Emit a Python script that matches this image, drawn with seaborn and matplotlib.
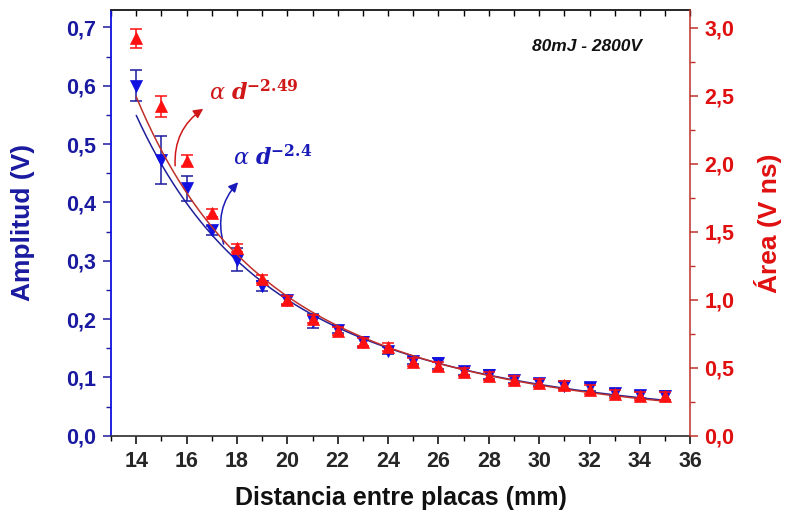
import numpy as np
import pandas as pd
import matplotlib
matplotlib.use("Agg")
import matplotlib.pyplot as plt
import seaborn as sns
from matplotlib.ticker import MultipleLocator, FuncFormatter

# ---- data ----
distance = [14, 15, 16, 17, 18, 19, 20, 21, 22, 23, 24, 25, 26, 27, 28, 29, 30, 31, 32, 33, 34, 35]
amplitude = [0.600, 0.472, 0.424, 0.352, 0.302, 0.257, 0.232, 0.197, 0.182, 0.161, 0.146, 0.129,
             0.124, 0.111, 0.105, 0.096, 0.091, 0.086, 0.084, 0.074, 0.070, 0.069]
amplitude_err = [0.027, 0.041, 0.022, 0.008, 0.020, 0.008, 0.008, 0.012, 0.006, 0.008, 0.006, 0.006,
                 0.010, 0.006, 0.008, 0.006, 0.006, 0.006, 0.007, 0.006, 0.006, 0.007]
area = [2.92, 2.42, 2.02, 1.64, 1.38, 1.15, 1.00, 0.86, 0.77, 0.69, 0.65, 0.54,
        0.51, 0.47, 0.44, 0.41, 0.39, 0.37, 0.34, 0.31, 0.29, 0.29]
area_err = [0.07, 0.08, 0.04, 0.03, 0.03, 0.03, 0.03, 0.03, 0.03, 0.03, 0.03, 0.03,
            0.03, 0.03, 0.03, 0.03, 0.03, 0.03, 0.03, 0.03, 0.03, 0.03]

# power-law fit parameters (value at d=14 and exponent)
amp_fit_at14, amp_exp = 0.549, -2.4
area_fit_at14, area_exp = 2.49, -2.49

x_ticks = [14, 16, 18, 20, 22, 24, 26, 28, 30, 32, 34, 36]

# ---- style ----
sns.set_theme(style="ticks")
plt.rcParams["font.family"] = ["Liberation Sans", "DejaVu Sans"]
plt.rcParams["mathtext.fontset"] = "dejavuserif"

BLUE = "#1010e0"
BLUE_DARK = "#1a1aa0"
BLUE_LINE = "#20209a"
RED = "#ff1010"
RED_LBL = "#e01010"
RED_LINE = "#c0302a"

fig = plt.figure(figsize=(7.88, 5.17), dpi=100)
ax = fig.add_axes([0.141, 0.157, 0.735, 0.824])
ax2 = ax.twinx()

df = pd.DataFrame({"d": distance, "amp": amplitude, "amp_err": amplitude_err,
                   "area": area, "area_err": area_err})

dfit = np.linspace(14, 35, 200)
fit_df = pd.DataFrame({"d": dfit,
                       "amp": amp_fit_at14 * (dfit / 14.0) ** amp_exp,
                       "area": area_fit_at14 * (dfit / 14.0) ** area_exp})

# fits
sns.lineplot(data=fit_df, x="d", y="amp", ax=ax, color=BLUE_LINE, lw=1.1, zorder=2)
sns.lineplot(data=fit_df, x="d", y="area", ax=ax2, color=RED_LINE, lw=1.1, zorder=2)

# error bars
ax.errorbar(df["d"], df["amp"], yerr=df["amp_err"], fmt="none", ecolor=BLUE_DARK,
            elinewidth=1.1, capsize=4, capthick=1.1, zorder=3)
ax2.errorbar(df["d"], df["area"], yerr=df["area_err"], fmt="none", ecolor=RED,
             elinewidth=1.1, capsize=4, capthick=1.1, zorder=3)

# markers
sns.scatterplot(data=df, x="d", y="amp", ax=ax, marker="v", s=75, color=BLUE,
                edgecolor=BLUE, linewidth=0.5, zorder=4)
sns.scatterplot(data=df, x="d", y="area", ax=ax2, marker="^", s=75, color=RED,
                edgecolor=RED, linewidth=0.5, zorder=4)

# ---- axes ----
ax.set_xlim(13, 36)
ax.set_ylim(0, 0.73)
ax2.set_ylim(0, 3.13)

comma1 = FuncFormatter(lambda v, p: f"{v:.1f}".replace(".", ","))
ax.set_xticks(x_ticks)
ax.xaxis.set_minor_locator(MultipleLocator(1))
ax.yaxis.set_major_locator(MultipleLocator(0.1))
ax.yaxis.set_minor_locator(MultipleLocator(0.05))
ax.yaxis.set_major_formatter(comma1)
ax2.yaxis.set_major_locator(MultipleLocator(0.5))
ax2.yaxis.set_minor_locator(MultipleLocator(0.25))
ax2.yaxis.set_major_formatter(comma1)

TICK_FS = 15.5
ax.tick_params(axis="x", which="major", direction="out", length=6, width=1.1,
               labelsize=TICK_FS, color="black", pad=5)
ax.tick_params(axis="x", which="minor", direction="out", length=3.5, width=1.0, color="black")
ax.tick_params(axis="y", which="major", direction="out", length=6, width=1.1,
               labelsize=TICK_FS, color=BLUE_DARK, labelcolor=BLUE_DARK, pad=5)
ax.tick_params(axis="y", which="minor", direction="out", length=3.5, width=1.0, color=BLUE_DARK)
ax2.tick_params(axis="y", which="major", direction="out", length=6, width=1.1,
                labelsize=TICK_FS, color=RED_LINE, labelcolor=RED_LBL, pad=4)
ax2.tick_params(axis="y", which="minor", direction="out", length=3.5, width=1.0, color=RED_LINE)
for lbl in ax.get_xticklabels() + ax.get_yticklabels() + ax2.get_yticklabels():
    lbl.set_fontweight("bold")

sec = ax.secondary_xaxis("top")
sec.set_xticks(list(range(13, 37)))
sec.tick_params(direction="in", length=4, width=1.0, labeltop=False, color="black")
sec.spines["top"].set_color("#333333")

ax.spines["left"].set_color(BLUE)
ax.spines["left"].set_linewidth(1.3)
ax.spines["bottom"].set_color("#333333")
ax.spines["right"].set_visible(False)
ax2.spines["left"].set_visible(False)
ax2.spines["top"].set_visible(False)
ax2.spines["bottom"].set_visible(False)
ax2.spines["right"].set_color(RED_LINE)
ax2.spines["right"].set_linewidth(1.1)

ax.set_xlabel("Distancia entre placas (mm)", fontsize=18, fontweight="bold", color="#111111",
              labelpad=10)
ax.set_ylabel("Amplitud (V)", fontsize=19, fontweight="bold", color=BLUE_DARK, labelpad=22)
ax2.set_ylabel("Área (V ns)", fontsize=19, fontweight="bold", color=RED_LBL, labelpad=14)

# ---- annotations ----
ax.text(0.822, 0.915, "80mJ - 2800V", transform=ax.transAxes, ha="center", va="center",
        fontsize=12.5, fontweight="bold", fontstyle="italic", color="#111111")

ax.text(16.9, 0.588, r"$\alpha\ \mathbfit{d}^{\mathbf{-2.49}}$", fontsize=16,
        color="#d01818", ha="left", va="center", zorder=6)
ax.text(17.85, 0.476, r"$\alpha\ \mathbfit{d}^{\mathbf{-2.4}}$", fontsize=16,
        color="#1a1ab8", ha="left", va="center", zorder=6)

ax.annotate("", xy=(16.75, 0.563), xytext=(15.55, 0.458),
            arrowprops=dict(arrowstyle="-|>", color="#d01818", lw=1.1,
                            connectionstyle="arc3,rad=-0.3", mutation_scale=14), zorder=6)
ax.annotate("", xy=(18.12, 0.438), xytext=(17.5, 0.324),
            arrowprops=dict(arrowstyle="-|>", color="#1a1ab8", lw=1.1,
                            connectionstyle="arc3,rad=-0.3", mutation_scale=14), zorder=6)

fig.savefig("out.png", dpi=100)
